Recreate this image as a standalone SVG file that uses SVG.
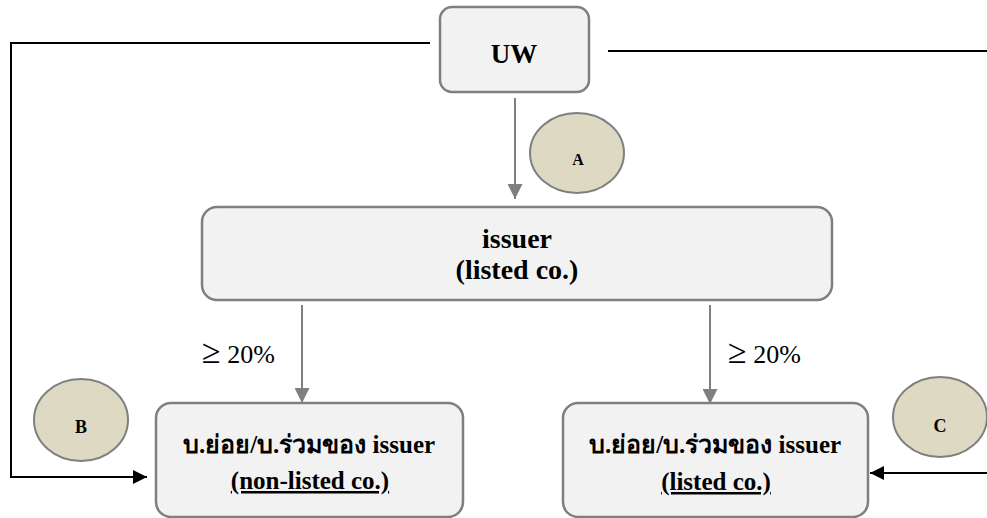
<svg xmlns="http://www.w3.org/2000/svg" width="987" height="518" viewBox="0 0 987 518">
<style>
.box{fill:#f2f2f2;stroke:#7f7f7f;stroke-width:2.5}
.circ{fill:#ddd9c3;stroke:#7f7f7f;stroke-width:2}
.g{stroke:#7f7f7f;stroke-width:2;fill:none}
.k{stroke:#000;stroke-width:2;fill:none}
</style>
<defs>
<marker id="ag" viewBox="0 0 10 10" refX="10" refY="5" markerWidth="15" markerHeight="15" markerUnits="userSpaceOnUse" orient="auto"><path d="M0,0 L10,5 L0,10 z" fill="#7f7f7f"/></marker>
<marker id="ak" viewBox="0 0 10 10" refX="10" refY="5" markerWidth="16" markerHeight="14" markerUnits="userSpaceOnUse" orient="auto"><path d="M0,0 L10,5 L0,10 z" fill="#000"/></marker>
</defs>
<g id="connectors">
<line class="g" x1="515" y1="98" x2="515" y2="199" marker-end="url(#ag)"/>
<line class="g" x1="302" y1="305" x2="302" y2="403" marker-end="url(#ag)"/>
<line class="g" x1="710" y1="305" x2="710" y2="404" marker-end="url(#ag)"/>
<polyline class="k" points="430,43 11,43 11,477 147,477" marker-end="url(#ak)"/>
<line class="k" x1="608" y1="51" x2="987" y2="51"/>
<line class="k" x1="987" y1="473" x2="870" y2="473" marker-end="url(#ak)"/>
<text x="202" y="363" font-family="Times New Roman, Liberation Serif, serif" font-size="26"><tspan font-size="34">≥</tspan> 20%</text>
<text x="728" y="363" font-family="Times New Roman, Liberation Serif, serif" font-size="26"><tspan font-size="34">≥</tspan> 20%</text>
</g>
<g id="uw">
<rect class="box" x="440" y="7" width="149" height="85" rx="12"/>
<text x="514" y="63" text-anchor="middle" font-family="Times New Roman, Liberation Serif, serif" font-size="27" font-weight="bold">UW</text>
</g>
<g id="issuer">
<rect class="box" x="202" y="207" width="630" height="93" rx="15"/>
<text x="517" y="248" text-anchor="middle" font-family="Times New Roman, Liberation Serif, serif" font-size="28" font-weight="bold">issuer</text>
<text x="517" y="279" text-anchor="middle" font-family="Times New Roman, Liberation Serif, serif" font-size="28" font-weight="bold">(listed co.)</text>
</g>
<g id="sub-nonlisted">
<rect class="box" x="156" y="403" width="307" height="114" rx="15"/>
<text x="309" y="453" text-anchor="middle" font-family="Times New Roman, Liberation Serif, serif" font-size="25" font-weight="bold">บ.ย่อย/บ.ร่วมของ issuer</text>
<text x="310" y="489" text-anchor="middle" text-decoration="underline" font-family="Times New Roman, Liberation Serif, serif" font-size="25" font-weight="bold">(non-listed co.)</text>
</g>
<g id="sub-listed">
<rect class="box" x="563" y="403" width="305" height="114" rx="15"/>
<text x="715" y="453" text-anchor="middle" font-family="Times New Roman, Liberation Serif, serif" font-size="25" font-weight="bold">บ.ย่อย/บ.ร่วมของ issuer</text>
<text x="716" y="490" text-anchor="middle" text-decoration="underline" font-family="Times New Roman, Liberation Serif, serif" font-size="25" font-weight="bold">(listed co.)</text>
</g>
<g id="A">
<ellipse class="circ" cx="577" cy="153" rx="47" ry="40"/>
<text x="578" y="165" text-anchor="middle" font-family="Times New Roman, Liberation Serif, serif" font-size="16" font-weight="bold">A</text>
</g>
<g id="B">
<ellipse class="circ" cx="81" cy="420" rx="47" ry="41"/>
<text x="81" y="433" text-anchor="middle" font-family="Times New Roman, Liberation Serif, serif" font-size="18" font-weight="bold">B</text>
</g>
<g id="C">
<ellipse class="circ" cx="940" cy="417" rx="47" ry="40"/>
<text x="940" y="432" text-anchor="middle" font-family="Times New Roman, Liberation Serif, serif" font-size="18" font-weight="bold">C</text>
</g>
</svg>
